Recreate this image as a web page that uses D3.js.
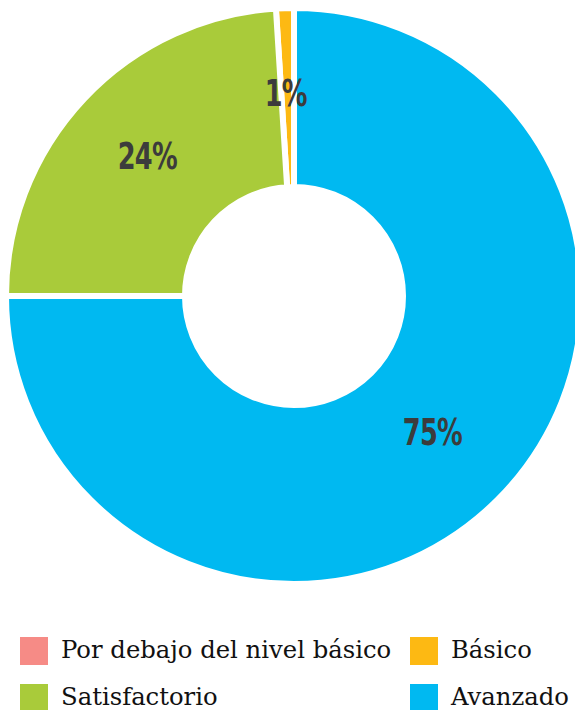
<!DOCTYPE html>
<html>
<head>
<meta charset="utf-8">
<script src="https://cdn.jsdelivr.net/npm/d3@7"></script>
<style>
  html, body { margin: 0; padding: 0; background: #fff; }
  svg { display: block; }
</style>
</head>
<body>
<svg id="chart" width="575" height="710"></svg>
<script>
const categories = ["Por debajo del nivel básico", "Básico", "Satisfactorio", "Avanzado"];
const values = [0, 1, 24, 75];
const labels = ["0%", "1%", "24%", "75%"];
const colors = ["#F68B86", "#FDB913", "#A9CB3A", "#00B9F1"];

const svg = d3.select("#chart");
const cx = 294, cy = 296;
const outerR = 288, innerR = 109;

const data = categories.map((c, i) => ({ name: c, value: values[i], label: labels[i], color: colors[i] }));

const pie = d3.pie().sort(null).value(d => d.value).startAngle(0).endAngle(-2 * Math.PI);
const arc = d3.arc().innerRadius(innerR).outerRadius(outerR);

const g = svg.append("g").attr("transform", `translate(${cx},${cy})`);
const arcs = pie(data).filter(d => d.data.value > 0);

g.selectAll("path").data(arcs).join("path")
  .attr("d", arc)
  .attr("fill", d => d.data.color)
  .attr("stroke", "#fff")
  .attr("stroke-width", 6)
  .attr("stroke-linejoin", "miter");

g.selectAll("text.lbl").data(arcs).join("text")
  .attr("class", "lbl")
  .attr("transform", d => { const [x, y] = arc.centroid(d); return `translate(${x - 2},${y}) scale(0.77,1)`; })
  .attr("text-anchor", "middle")
  .attr("dy", "0.23em")
  .attr("font-family", "'DejaVu Sans Condensed', 'DejaVu Sans', sans-serif")
  .attr("font-weight", "bold")
  .attr("font-size", 37)
  .attr("letter-spacing", -1)
  .attr("fill", "#3C3C3C")
  .text(d => d.data.label);

// Legend
const legendX = [20, 410];
const legendY = [637, 684];
const leg = svg.append("g");
data.forEach((d, i) => {
  const x = legendX[i % 2], y = legendY[Math.floor(i / 2)];
  leg.append("rect").attr("x", x).attr("y", y).attr("width", 28).attr("height", 28).attr("fill", d.color);
  leg.append("text").attr("x", x + 41).attr("y", y + 21)
    .attr("font-family", "'DejaVu Serif', 'Liberation Serif', serif")
    .attr("font-size", 24.3)
    .attr("fill", "#111")
    .text(d.name);
});
</script>
</body>
</html>
